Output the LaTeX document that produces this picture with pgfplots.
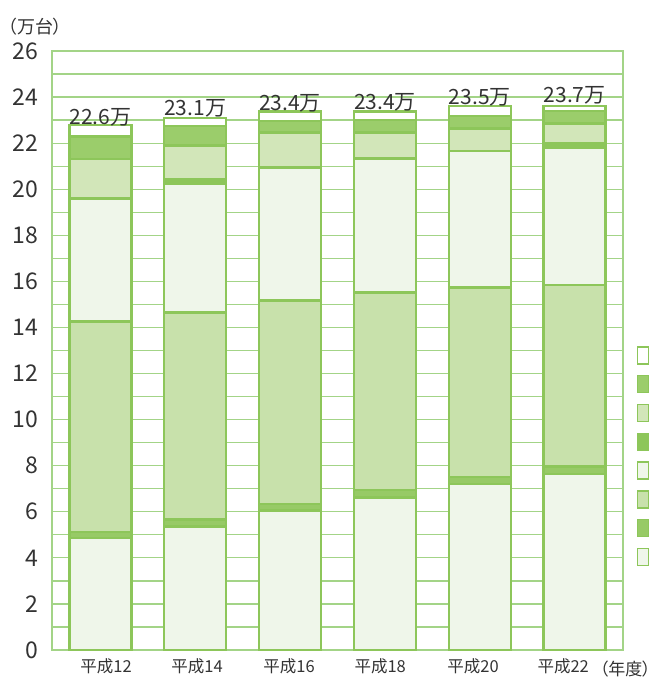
\documentclass[border=0pt]{standalone}
\usepackage{fontspec}
\setmainfont{Noto Sans CJK JP}[RawFeature=+palt]
\usepackage{pgfplots}
\pgfplotsset{compat=1.18}
\definecolor{bd}{HTML}{8DC65A}
\definecolor{gridc}{HTML}{A3D487}
\definecolor{vlight}{HTML}{EFF6EA}
\definecolor{lightA}{HTML}{C8E1AB}
\definecolor{lightB}{HTML}{D2E6B9}
\definecolor{medA}{HTML}{97CA66}
\definecolor{medB}{HTML}{9BCD6B}
\definecolor{dark}{HTML}{8DC65A}
\definecolor{txt}{HTML}{333333}
\begin{document}
\begin{tikzpicture}[x=1pt,y=1pt]
\path[use as bounding box] (0,0) rectangle (655,686);
\begin{axis}[
  at={(52pt,36pt)}, anchor=south west,
  width=571pt, height=599pt, scale only axis,
  xmin=-0.51, xmax=5.51, ymin=0, ymax=26,
  ybar stacked, bar width=62pt,
  xtick={0.06,1.02,1.99,2.95,3.93,4.88},
  xticklabels={平成12,平成14,平成16,平成18,平成20,平成22},
  ytick={0,2,...,26}, minor ytick={1,3,...,25},
  ymajorgrids, yminorgrids,
  major grid style={gridc, line width=1.3pt},
  minor grid style={gridc, line width=1.3pt},
  axis line style={gridc, line width=1.3pt},
  major tick length=0pt, minor tick length=0pt,
  tick style={draw=none},
  /pgf/number format/assume math mode=true,
  yticklabel style={font=\fontsize{23}{23}\selectfont, text=txt, xshift=-10pt},
  xticklabel style={font=\fontsize{16.5}{16.5}\selectfont, text=txt, yshift=-5pt},
  reverse legend,
  legend style={at={(1.0245,0.5075)}, anchor=north west, draw=none, fill=none,
    inner sep=0pt, row sep=10.5pt, nodes={inner sep=0pt}},
  legend image code/.code={\draw[#1, line width=1.3pt] (0pt,-8.5pt) rectangle (11pt,8.5pt);},
]
% s1 very light bottom
\addplot[fill=vlight, draw=bd, line width=2.5pt] coordinates {(0,4.86) (1,5.35) (2,6.05) (3,6.63) (4,7.20) (5,7.64)};
\addlegendentry{}
% s2 band
\addplot[fill=medA, draw=bd, line width=2.5pt] coordinates {(0,0.26) (1,0.32) (2,0.29) (3,0.31) (4,0.32) (5,0.32)};
\addlegendentry{}
% s3 light big
\addplot[fill=lightA, draw=bd, line width=2.5pt] coordinates {(0,9.13) (1,8.99) (2,8.82) (3,8.57) (4,8.22) (5,7.88)};
\addlegendentry{}
% s4 very light
\addplot[fill=vlight, draw=bd, line width=2.5pt] coordinates {(0,5.35) (1,5.57) (2,5.79) (3,5.83) (4,5.92) (5,5.94)};
\addlegendentry{}
% s5 dark band
\addplot[fill=dark, draw=bd, line width=2.5pt] coordinates {(0,0) (1,0.21) (2,0) (3,0) (4,0) (5,0.21)};
\addlegendentry{}
% s6 light
\addplot[fill=lightB, draw=bd, line width=2.5pt] coordinates {(0,1.71) (1,1.45) (2,1.52) (3,1.13) (4,0.98) (5,0.87)};
\addlegendentry{}
% s7 medium
\addplot[fill=medB, draw=bd, line width=2.5pt] coordinates {(0,0.97) (1,0.85) (2,0.49) (3,0.53) (4,0.54) (5,0.53)};
\addlegendentry{}
% s8 white top
\addplot[fill=white, draw=bd, line width=2.5pt,
  nodes near coords, point meta=explicit symbolic,
  every node near coord/.append style={font=\fontsize{21}{21}\selectfont, text=txt, anchor=south, yshift=0pt}]
  coordinates {(0,0.50) [22.6万] (1,0.36) [23.1万] (2,0.41) [23.4万] (3,0.37) [23.4万] (4,0.43) [23.5万] (5,0.22) [23.7万]};
\addlegendentry{}
\end{axis}
\node[anchor=west, text=txt, font=\fontsize{18}{18}\selectfont, inner sep=0pt] at (8,659) {（万台）};
\node[anchor=east, text=txt, font=\fontsize{17}{17}\selectfont, inner sep=0pt] at (651,17) {（年度）};
\end{tikzpicture}
\end{document}
